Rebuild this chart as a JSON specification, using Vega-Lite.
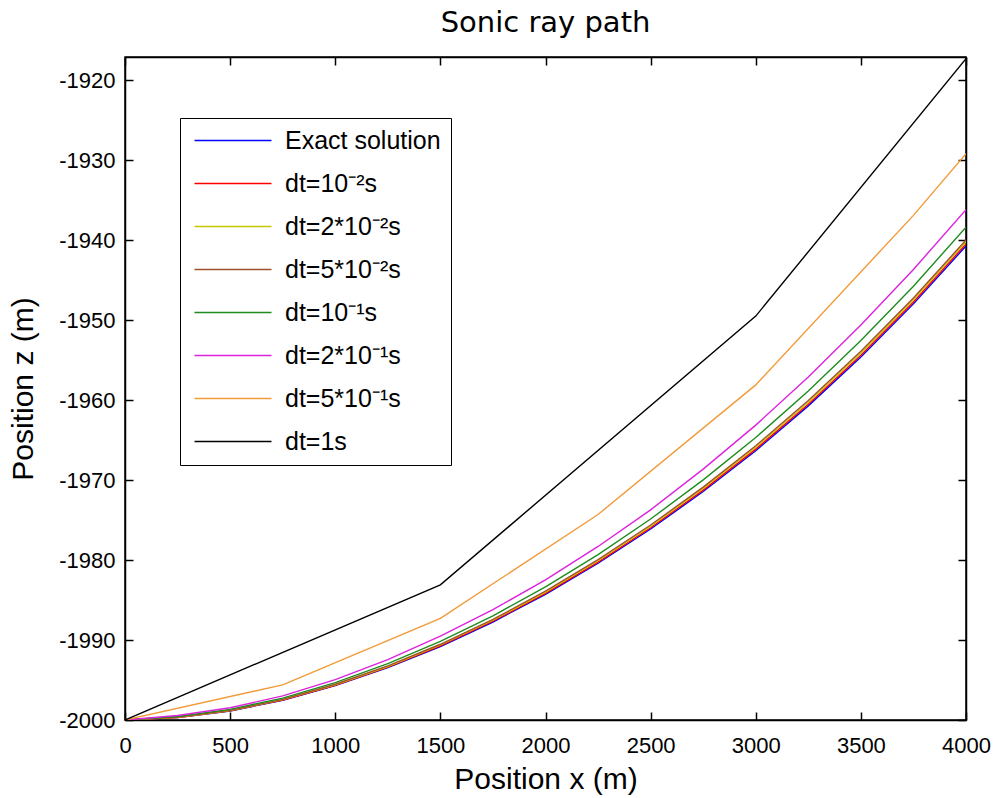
{
  "$schema": "https://vega.github.io/schema/vega-lite/v6.json",
  "width": 841,
  "height": 663,
  "autosize": {"type": "none"},
  "padding": {"left": 125, "top": 57, "right": 28, "bottom": 78},
  "background": "white",
  "config": {
    "view": {"stroke": "black", "strokeWidth": 1.5},
    "font": "Liberation Sans",
    "axis": {"grid": false, "domainColor": "black", "domainWidth": 1.5, "tickColor": "black", "tickWidth": 1.5, "labelColor": "black", "titleColor": "black", "labelFont": "Liberation Sans", "titleFont": "Liberation Sans", "titleFontWeight": "normal"}
  },
  "title": {"text": "Sonic ray path", "font": "DejaVu Sans", "fontSize": 29, "fontWeight": "normal", "color": "black", "offset": 18},
  "data": {"values": [
    {"series": "Exact solution", "x": 0, "z": -2000},
    {"series": "Exact solution", "x": 250, "z": -1999.69},
    {"series": "Exact solution", "x": 500, "z": -1998.87},
    {"series": "Exact solution", "x": 750, "z": -1997.54},
    {"series": "Exact solution", "x": 1000, "z": -1995.70},
    {"series": "Exact solution", "x": 1250, "z": -1993.46},
    {"series": "Exact solution", "x": 1500, "z": -1990.81},
    {"series": "Exact solution", "x": 1750, "z": -1987.75},
    {"series": "Exact solution", "x": 2000, "z": -1984.28},
    {"series": "Exact solution", "x": 2250, "z": -1980.40},
    {"series": "Exact solution", "x": 2500, "z": -1976.12},
    {"series": "Exact solution", "x": 2750, "z": -1971.43},
    {"series": "Exact solution", "x": 3000, "z": -1966.33},
    {"series": "Exact solution", "x": 3250, "z": -1960.72},
    {"series": "Exact solution", "x": 3500, "z": -1954.60},
    {"series": "Exact solution", "x": 3750, "z": -1947.97},
    {"series": "Exact solution", "x": 4000, "z": -1940.73},
    {"series": "dt=10⁻²s", "x": 0, "z": -2000},
    {"series": "dt=10⁻²s", "x": 250, "z": -1999.68},
    {"series": "dt=10⁻²s", "x": 500, "z": -1998.85},
    {"series": "dt=10⁻²s", "x": 750, "z": -1997.50},
    {"series": "dt=10⁻²s", "x": 1000, "z": -1995.65},
    {"series": "dt=10⁻²s", "x": 1250, "z": -1993.39},
    {"series": "dt=10⁻²s", "x": 1500, "z": -1990.73},
    {"series": "dt=10⁻²s", "x": 1750, "z": -1987.65},
    {"series": "dt=10⁻²s", "x": 2000, "z": -1984.16},
    {"series": "dt=10⁻²s", "x": 2250, "z": -1980.26},
    {"series": "dt=10⁻²s", "x": 2500, "z": -1975.96},
    {"series": "dt=10⁻²s", "x": 2750, "z": -1971.25},
    {"series": "dt=10⁻²s", "x": 3000, "z": -1966.13},
    {"series": "dt=10⁻²s", "x": 3250, "z": -1960.51},
    {"series": "dt=10⁻²s", "x": 3500, "z": -1954.38},
    {"series": "dt=10⁻²s", "x": 3750, "z": -1947.73},
    {"series": "dt=10⁻²s", "x": 4000, "z": -1940.48},
    {"series": "dt=2*10⁻²s", "x": 0, "z": -2000},
    {"series": "dt=2*10⁻²s", "x": 250, "z": -1999.66},
    {"series": "dt=2*10⁻²s", "x": 500, "z": -1998.82},
    {"series": "dt=2*10⁻²s", "x": 750, "z": -1997.46},
    {"series": "dt=2*10⁻²s", "x": 1000, "z": -1995.59},
    {"series": "dt=2*10⁻²s", "x": 1250, "z": -1993.31},
    {"series": "dt=2*10⁻²s", "x": 1500, "z": -1990.62},
    {"series": "dt=2*10⁻²s", "x": 1750, "z": -1987.52},
    {"series": "dt=2*10⁻²s", "x": 2000, "z": -1984.01},
    {"series": "dt=2*10⁻²s", "x": 2250, "z": -1980.09},
    {"series": "dt=2*10⁻²s", "x": 2500, "z": -1975.77},
    {"series": "dt=2*10⁻²s", "x": 2750, "z": -1971.04},
    {"series": "dt=2*10⁻²s", "x": 3000, "z": -1965.90},
    {"series": "dt=2*10⁻²s", "x": 3250, "z": -1960.26},
    {"series": "dt=2*10⁻²s", "x": 3500, "z": -1954.10},
    {"series": "dt=2*10⁻²s", "x": 3750, "z": -1947.44},
    {"series": "dt=2*10⁻²s", "x": 4000, "z": -1940.18},
    {"series": "dt=5*10⁻²s", "x": 0, "z": -2000},
    {"series": "dt=5*10⁻²s", "x": 250, "z": -1999.64},
    {"series": "dt=5*10⁻²s", "x": 500, "z": -1998.79},
    {"series": "dt=5*10⁻²s", "x": 750, "z": -1997.42},
    {"series": "dt=5*10⁻²s", "x": 1000, "z": -1995.53},
    {"series": "dt=5*10⁻²s", "x": 1250, "z": -1993.24},
    {"series": "dt=5*10⁻²s", "x": 1500, "z": -1990.53},
    {"series": "dt=5*10⁻²s", "x": 1750, "z": -1987.42},
    {"series": "dt=5*10⁻²s", "x": 2000, "z": -1983.88},
    {"series": "dt=5*10⁻²s", "x": 2250, "z": -1979.95},
    {"series": "dt=5*10⁻²s", "x": 2500, "z": -1975.62},
    {"series": "dt=5*10⁻²s", "x": 2750, "z": -1970.88},
    {"series": "dt=5*10⁻²s", "x": 3000, "z": -1965.71},
    {"series": "dt=5*10⁻²s", "x": 3250, "z": -1960.06},
    {"series": "dt=5*10⁻²s", "x": 3500, "z": -1953.90},
    {"series": "dt=5*10⁻²s", "x": 3750, "z": -1947.24},
    {"series": "dt=5*10⁻²s", "x": 4000, "z": -1939.98},
    {"series": "dt=10⁻¹s", "x": 0, "z": -2000},
    {"series": "dt=10⁻¹s", "x": 250, "z": -1999.57},
    {"series": "dt=10⁻¹s", "x": 500, "z": -1998.67},
    {"series": "dt=10⁻¹s", "x": 750, "z": -1997.26},
    {"series": "dt=10⁻¹s", "x": 1000, "z": -1995.32},
    {"series": "dt=10⁻¹s", "x": 1250, "z": -1992.96},
    {"series": "dt=10⁻¹s", "x": 1500, "z": -1990.16},
    {"series": "dt=10⁻¹s", "x": 1750, "z": -1986.97},
    {"series": "dt=10⁻¹s", "x": 2000, "z": -1983.36},
    {"series": "dt=10⁻¹s", "x": 2250, "z": -1979.32},
    {"series": "dt=10⁻¹s", "x": 2500, "z": -1974.87},
    {"series": "dt=10⁻¹s", "x": 2750, "z": -1969.98},
    {"series": "dt=10⁻¹s", "x": 3000, "z": -1964.68},
    {"series": "dt=10⁻¹s", "x": 3250, "z": -1958.87},
    {"series": "dt=10⁻¹s", "x": 3500, "z": -1952.55},
    {"series": "dt=10⁻¹s", "x": 3750, "z": -1945.77},
    {"series": "dt=10⁻¹s", "x": 4000, "z": -1938.38},
    {"series": "dt=2*10⁻¹s", "x": 0, "z": -2000},
    {"series": "dt=2*10⁻¹s", "x": 250, "z": -1999.44},
    {"series": "dt=2*10⁻¹s", "x": 500, "z": -1998.47},
    {"series": "dt=2*10⁻¹s", "x": 750, "z": -1996.99},
    {"series": "dt=2*10⁻¹s", "x": 1000, "z": -1994.95},
    {"series": "dt=2*10⁻¹s", "x": 1250, "z": -1992.46},
    {"series": "dt=2*10⁻¹s", "x": 1500, "z": -1989.51},
    {"series": "dt=2*10⁻¹s", "x": 1750, "z": -1986.20},
    {"series": "dt=2*10⁻¹s", "x": 2000, "z": -1982.48},
    {"series": "dt=2*10⁻¹s", "x": 2250, "z": -1978.30},
    {"series": "dt=2*10⁻¹s", "x": 2500, "z": -1973.72},
    {"series": "dt=2*10⁻¹s", "x": 2750, "z": -1968.63},
    {"series": "dt=2*10⁻¹s", "x": 3000, "z": -1963.13},
    {"series": "dt=2*10⁻¹s", "x": 3250, "z": -1957.12},
    {"series": "dt=2*10⁻¹s", "x": 3500, "z": -1950.60},
    {"series": "dt=2*10⁻¹s", "x": 3750, "z": -1943.67},
    {"series": "dt=2*10⁻¹s", "x": 4000, "z": -1936.18},
    {"series": "dt=5*10⁻¹s", "x": 0, "z": -2000},
    {"series": "dt=5*10⁻¹s", "x": 750, "z": -1995.6},
    {"series": "dt=5*10⁻¹s", "x": 1500, "z": -1987.3},
    {"series": "dt=5*10⁻¹s", "x": 2250, "z": -1974.3},
    {"series": "dt=5*10⁻¹s", "x": 3000, "z": -1958.1},
    {"series": "dt=5*10⁻¹s", "x": 3750, "z": -1936.9},
    {"series": "dt=5*10⁻¹s", "x": 4000, "z": -1929.2},
    {"series": "dt=1s", "x": 0, "z": -2000},
    {"series": "dt=1s", "x": 1500, "z": -1983.1},
    {"series": "dt=1s", "x": 3000, "z": -1949.5},
    {"series": "dt=1s", "x": 4000, "z": -1917.3}
  ]},
  "layer": [
    {
      "mark": {"type": "line", "strokeWidth": 1.4, "clip": true},
      "encoding": {
        "x": {"field": "x", "type": "quantitative", "scale": {"domain": [0, 4000], "nice": false, "zero": false},
              "axis": {"orient": "bottom", "values": [0, 500, 1000, 1500, 2000, 2500, 3000, 3500, 4000], "labelExpr": "datum.value + ''", "tickSize": -8, "labelPadding": 23, "labelFontSize": 22, "labelFlush": false, "labelOverlap": false, "title": "Position x (m)", "titleFontSize": 30, "titlePadding": 8}},
        "y": {"field": "z", "type": "quantitative", "scale": {"domain": [-2000, -1917.1], "nice": false, "zero": false},
              "axis": {"orient": "left", "values": [-2000, -1990, -1980, -1970, -1960, -1950, -1940, -1930, -1920], "labelExpr": "datum.value + ''", "tickSize": -8, "labelPadding": 18, "labelFontSize": 22, "labelFlush": false, "labelOverlap": false, "title": "Position z (m)", "titleFontSize": 30, "titlePadding": 20}},
        "color": {"field": "series", "type": "nominal",
          "scale": {"domain": ["Exact solution", "dt=10⁻²s", "dt=2*10⁻²s", "dt=5*10⁻²s", "dt=10⁻¹s", "dt=2*10⁻¹s", "dt=5*10⁻¹s", "dt=1s"],
                    "range": ["#0000ff", "#ff0000", "#c8c800", "#a0522d", "#1e8c1e", "#dd22dd", "#f29a38", "#000000"]},
          "legend": {"orient": "none", "legendX": 55, "legendY": 61, "title": null, "symbolType": "M-1,0H8.625", "symbolSize": 256, "symbolStrokeWidth": 1.5, "labelFontSize": 25, "labelFont": "Liberation Sans", "labelColor": "black", "labelOffset": 70, "labelLimit": 400, "rowPadding": 17, "padding": 10, "strokeColor": "black", "fillColor": "white"}}
      }
    },
    {
      "mark": {"type": "line", "opacity": 0},
      "encoding": {
        "x": {"field": "x", "type": "quantitative", "scale": {"domain": [0, 4000], "nice": false, "zero": false},
              "axis": {"orient": "top", "values": [0, 500, 1000, 1500, 2000, 2500, 3000, 3500, 4000], "tickSize": -8, "labels": false, "title": null}},
        "y": {"field": "z", "type": "quantitative", "scale": {"domain": [-2000, -1917.1], "nice": false, "zero": false},
              "axis": {"orient": "right", "values": [-2000, -1990, -1980, -1970, -1960, -1950, -1940, -1930, -1920], "tickSize": -8, "labels": false, "title": null}},
        "detail": {"field": "series", "type": "nominal"}
      }
    }
  ],
  "resolve": {"axis": {"x": "independent", "y": "independent"}}
}
